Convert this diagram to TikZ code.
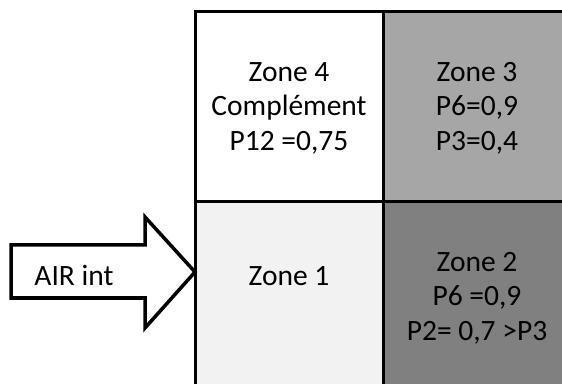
\documentclass[tikz,border=0pt]{standalone}
\usepackage{fontspec}
\setmainfont{Carlito}
\definecolor{zoneA}{HTML}{F2F2F2}
\definecolor{zoneB}{HTML}{808080}
\definecolor{zoneC}{HTML}{A6A6A6}
\begin{document}
\begin{tikzpicture}[x=1pt,y=1pt,
  cell/.style={draw=black,line width=3pt},
  lbl/.style={inner sep=0pt,align=center,font=\fontsize{29.5}{34.5}\selectfont},
  arrowshape/.style={draw=black,fill=white,line width=3.5pt,line join=miter}]
\clip (0,0) rectangle (562,383);
\useasboundingbox (0,0) rectangle (562,383);
% cells
\path[cell,fill=white] (195,181) rectangle (383,371);
\path[cell,fill=zoneC] (383,181) rectangle (571,371);
\path[cell,fill=zoneA] (195,-9) rectangle (383,181);
\path[cell,fill=zoneB] (383,-9) rectangle (571,181);
% texts
\node[lbl] (z4) at (289,275) {Zone 4\\Complément\\P12 =0,75};
\node[lbl] (z3) at (477,275) {Zone 3\\P6=0,9\\P3=0,4};
\node[lbl] (z1) at (289,107) {Zone 1};
\node[lbl] (z2) at (477,85) {Zone 2\\P6 =0,9\\P2= 0,7 >P3};
% arrow
\draw[arrowshape] (11,138) -- (145,138) -- (145,166) -- (195,111) -- (145,55) -- (145,85) -- (11,85) -- cycle;
\node[lbl,anchor=base] (air) at (74,97) {AIR int};
\end{tikzpicture}
\end{document}
